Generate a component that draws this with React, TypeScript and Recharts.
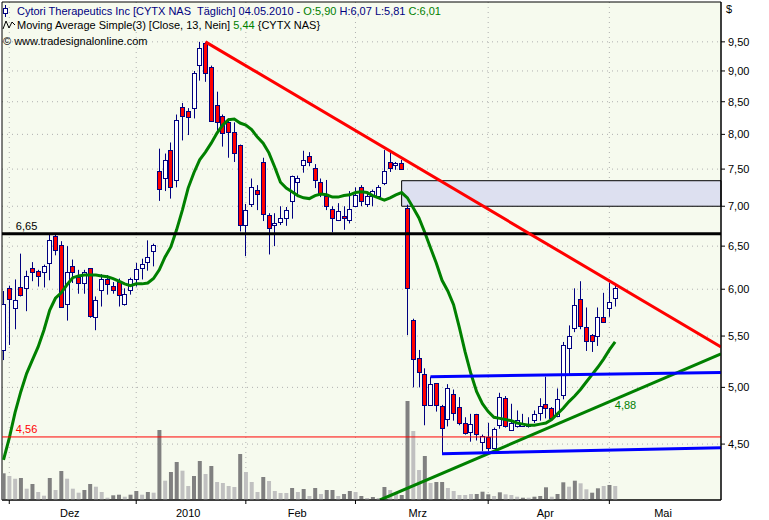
import React from 'react';
import {
  ComposedChart,
  Bar,
  Line,
  XAxis,
  YAxis,
  CartesianGrid,
  ReferenceLine,
  ReferenceArea,
  ReferenceDot,
  Cell,
} from 'recharts';

// daily candles, 30.11.2009 .. 04.05.2010 (index = trading day)
const opens = [
  5.36, 6.01, 5.79, 6.03, 6.02, 6.24, 6.21, 6.19, 6.31, 6.62,
  6.51, 5.84, 6.27, 6.14, 6.07, 6.24, 5.70, 6.00, 6.12, 6.04,
  6.08, 5.84, 5.99, 6.12, 6.24, 6.31, 6.44, 7.48, 7.38, 7.77,
  7.35, 8.41, 8.35, 8.41, 9.09, 9.48, 9.07, 8.45, 8.27, 8.18,
  8.03, 7.85, 6.76, 7.03, 7.22, 7.60, 6.89, 6.76, 6.80, 6.85,
  7.06, 7.32, 7.56, 7.68, 7.52, 7.32, 7.13, 6.97, 6.82, 6.87,
  6.82, 7.00, 7.25, 7.02, 7.13, 7.14, 7.31, 7.60, 7.56, 7.58,
  6.98, 5.67, 5.28, 5.13, 4.84, 5.04, 4.83, 4.71, 4.94, 4.82,
  4.68, 4.60, 4.76, 4.52, 4.56, 4.47, 4.66, 4.90, 4.62, 4.66,
  4.65, 4.65, 4.71, 4.77, 4.85, 4.81, 4.74, 4.93, 5.38, 5.59,
  5.89, 5.59, 5.51, 5.50, 5.70, 5.79, 5.90,
];
const highs = [
  5.98, 6.04, 6.11, 6.41, 6.21, 6.31, 6.22, 6.28, 6.65, 6.65,
  6.56, 6.50, 6.34, 6.22, 6.22, 6.24, 5.92, 6.17, 6.16, 6.08,
  6.12, 6.01, 6.13, 6.30, 6.35, 6.57, 6.53, 7.79, 7.72, 7.88,
  8.30, 8.48, 8.40, 9.00, 9.50, 9.50, 9.09, 8.66, 8.30, 8.24,
  8.18, 7.85, 7.03, 7.37, 7.28, 7.66, 6.91, 6.91, 7.00, 6.99,
  7.41, 7.41, 7.76, 7.74, 7.57, 7.37, 7.35, 7.00, 7.04, 7.00,
  7.20, 7.25, 7.28, 7.18, 7.22, 7.28, 7.77, 7.74, 7.60, 7.63,
  7.02, 5.68, 5.36, 5.18, 5.10, 5.04, 4.84, 5.03, 4.98, 4.91,
  4.73, 4.76, 4.76, 4.58, 4.68, 4.64, 4.95, 4.92, 4.85, 4.79,
  4.76, 4.73, 4.79, 4.90, 5.10, 4.82, 4.99, 5.44, 5.61, 6.01,
  6.09, 5.80, 5.52, 5.80, 5.96, 6.07, 6.07,
];
const lows = [
  5.26, 5.41, 5.57, 5.92, 5.76, 6.09, 6.03, 6.02, 6.10, 6.39,
  5.80, 5.66, 6.07, 5.95, 5.95, 5.69, 5.56, 5.81, 5.94, 5.95,
  5.81, 5.82, 5.94, 6.03, 6.11, 6.21, 6.26, 7.07, 7.20, 7.10,
  7.25, 7.91, 7.99, 8.24, 8.84, 8.82, 8.19, 8.02, 7.82, 7.66,
  7.60, 6.68, 6.38, 6.99, 6.95, 6.81, 6.40, 6.50, 6.76, 6.75,
  6.84, 7.12, 7.45, 7.54, 7.24, 7.12, 6.95, 6.67, 6.81, 6.70,
  6.78, 6.99, 7.00, 6.99, 7.00, 7.13, 7.28, 7.46, 7.49, 7.49,
  5.51, 5.00, 5.00, 4.66, 4.84, 4.78, 4.42, 4.65, 4.70, 4.66,
  4.58, 4.52, 4.53, 4.44, 4.44, 4.46, 4.63, 4.64, 4.62, 4.64,
  4.65, 4.64, 4.68, 4.70, 4.72, 4.70, 4.73, 4.89, 5.11, 5.54,
  5.57, 5.35, 5.34, 5.40, 5.65, 5.70, 5.81,
];
const closes = [
  5.84, 5.89, 5.88, 5.94, 6.15, 6.19, 6.15, 6.26, 6.58, 6.45,
  5.80, 6.20, 6.20, 6.07, 6.20, 5.71, 5.88, 6.12, 6.06, 6.00,
  5.94, 5.95, 6.11, 6.23, 6.29, 6.37, 6.51, 7.23, 7.63, 7.25,
  8.21, 8.27, 8.25, 8.97, 9.39, 8.97, 8.21, 8.18, 8.02, 8.03,
  7.72, 6.76, 6.95, 7.25, 7.17, 6.90, 6.72, 6.79, 6.85, 6.95,
  7.40, 7.38, 7.63, 7.60, 7.36, 7.17, 7.00, 6.86, 6.94, 6.85,
  6.96, 7.15, 7.06, 7.13, 7.20, 7.26, 7.48, 7.51, 7.59, 7.50,
  6.02, 5.27, 5.14, 4.84, 5.03, 4.84, 4.64, 4.99, 4.77, 4.68,
  4.59, 4.67, 4.59, 4.57, 4.47, 4.63, 4.91, 4.65, 4.68, 4.71,
  4.68, 4.67, 4.76, 4.83, 4.81, 4.72, 4.89, 5.41, 5.50, 5.83,
  5.60, 5.45, 5.45, 5.70, 5.65, 5.86, 6.01,
];
const volumes = [
  267, 240, 213, 220, 113, 160, 80, 43, 220, 100,
  290, 213, 113, 73, 100, 160, 133, 80, 23, 47,
  53, 33, 53, 90, 53, 80, 73, 700, 193, 280,
  380, 293, 140, 240, 390, 260, 340, 180, 170, 140,
  130, 460, 280, 180, 80, 230, 190, 90, 70, 70,
  120, 80, 110, 40, 120, 60, 100, 100, 40, 60,
  90, 80, 40, 20, 30, 20, 130, 100, 60, 50,
  990, 690, 300, 440, 170, 180, 180, 120, 90, 50,
  50, 60, 60, 83, 57, 40, 77, 57, 50, 33,
  23, 23, 33, 40, 127, 33, 60, 177, 133, 193,
  167, 107, 73, 117, 140, 150, 140,
];
// 1 = dark grey volume bar, 0 = light grey
const volumeDark = [
  1, 0, 0, 1, 0, 1, 0, 0, 1, 0,
  1, 0, 0, 0, 1, 1, 0, 0, 0, 1,
  1, 0, 1, 1, 0, 1, 0, 1, 0, 1,
  1, 0, 0, 1, 1, 0, 1, 0, 0, 0,
  0, 1, 0, 0, 0, 1, 0, 0, 0, 0,
  1, 0, 1, 0, 1, 0, 1, 1, 0, 1,
  1, 0, 1, 0, 1, 0, 1, 0, 0, 1,
  1, 0, 0, 1, 0, 1, 1, 0, 0, 0,
  0, 0, 1, 1, 1, 0, 1, 0, 0, 0,
  1, 0, 1, 1, 1, 0, 1, 1, 0, 1,
  0, 0, 1, 1, 0, 1, 0,
];
// Moving Average Simple (13), as drawn
const movingAverage = [
  4.37, 4.55, 4.77, 4.96, 5.13, 5.26, 5.39, 5.56, 5.77, 5.90,
  5.96, 6.05, 6.13, 6.15, 6.16, 6.16, 6.16, 6.15, 6.14, 6.12,
  6.09, 6.06, 6.04, 6.06, 6.06, 6.07, 6.12, 6.22, 6.37, 6.49,
  6.70, 6.95, 7.24, 7.45, 7.63, 7.74, 7.87, 8.02, 8.14, 8.22,
  8.23, 8.17, 8.14, 8.07, 7.96, 7.87, 7.73, 7.53, 7.32, 7.24,
  7.19, 7.14, 7.11, 7.10, 7.14, 7.16, 7.15, 7.12, 7.12, 7.14,
  7.15, 7.18, 7.19, 7.18, 7.14, 7.11, 7.08, 7.11, 7.15, 7.18,
  7.11, 6.98, 6.85, 6.67, 6.48, 6.30, 6.10, 5.98, 5.83, 5.59,
  5.34, 5.13, 4.96, 4.85, 4.78, 4.73, 4.72, 4.71, 4.70, 4.68,
  4.67, 4.66, 4.66, 4.67, 4.68, 4.71, 4.76, 4.81, 4.87, 4.92,
  4.98, 5.05, 5.12, 5.19, 5.27, 5.36, 5.44,
];

const priceTicks = [4.5, 5, 5.5, 6, 6.5, 7, 7.5, 8, 8.5, 9, 9.5];
const monthStarts = [1, 23, 42, 61, 84, 105];
const monthMids = [11.5, 32, 50.9, 71.8, 93.9, 114.3];
const monthLabels = ['Dez', '2010', 'Feb', 'Mrz', 'Apr', 'Mai'];

// drawing tools
const resistance = 6.65;
const support = 4.56;
const zoneStart = 69;
const zoneLow = 7.0;
const zoneHigh = 7.34;
const redTrend = [{ x: 35, y: 9.5 }, { x: 124.35, y: 5.39 }];
const greenTrend = [{ x: 65.25, y: 4.056 }, { x: 124.35, y: 5.32 }];
const blueUpper = [{ x: 74, y: 5.1 }, { x: 124.35, y: 5.14 }];
const blueLower = [{ x: 76, y: 4.42 }, { x: 124.35, y: 4.47 }];

const data = opens.map((open, i) => ({
  i,
  open,
  high: highs[i],
  low: lows[i],
  close: closes[i],
  volume: volumes[i],
  dark: volumeDark[i] === 1,
  ma: movingAverage[i],
}));

const FONT = '"Liberation Sans", Arial, sans-serif';
const X_DOMAIN: [number, number] = [-0.26, 124.35];
const Y_DOMAIN: [number, number] = [4.056, 10.23];
const NAVY = '#000080';
const GREEN = '#008000';

const fmt = (v: number) => v.toFixed(2).replace('.', ',');

// candle drawn inside the [low, high] bar the library positions for us
const Candle = (props: any) => {
  const { x, y, width, height, payload } = props;
  if (x == null || !payload) return null;
  const { open, close, high, low } = payload;
  const cx = Math.round(x + width / 2) + 0.5;
  const span = Math.log(high) - Math.log(low);
  const toY = (v: number) =>
    span > 0 ? y + height - ((Math.log(v) - Math.log(low)) / span) * height : y;
  const yo = toY(open);
  const yc = toY(close);
  const up = close >= open;
  const top = Math.round(Math.min(yo, yc)) + 0.5;
  const h = Math.max(Math.round(Math.abs(yo - yc)), 1);
  return (
    <g>
      <line x1={cx} x2={cx} y1={y} y2={y + height} stroke={NAVY} strokeWidth={1} />
      <rect x={cx - 2} y={top} width={4} height={h} fill={up ? '#ffffff' : '#ff0000'} stroke={NAVY} strokeWidth={1} />
    </g>
  );
};

const MonthTick = (props: any) => {
  const { x, y, payload } = props;
  const v = payload.value;
  if (monthStarts.includes(v)) {
    return <line x1={x} x2={x} y1={y} y2={y + 4} stroke="#000" />;
  }
  const m = monthMids.indexOf(v);
  return (
    <text x={x} y={y + 17} textAnchor="middle" fontSize={11} fill="#000" fontFamily={FONT}>
      {monthLabels[m]}
    </text>
  );
};

export default function App() {
  return (
    <div style={{ position: 'absolute', left: 0, top: 0, width: 769, height: 520, background: '#fff', fontFamily: FONT }}>
      <ComposedChart
        width={769}
        height={520}
        data={data}
        margin={{ top: 2, right: 0, bottom: 0, left: 2 }}
        style={{ fontFamily: FONT }}
      >
        <CartesianGrid
          yAxisId="price"
          fill="#f6faee"
          stroke="#b0b0b0"
          strokeDasharray="1 4"
          horizontalValues={priceTicks}
          verticalValues={monthStarts}
        />
        <XAxis
          dataKey="i"
          type="number"
          domain={X_DOMAIN}
          allowDataOverflow
          ticks={[...monthStarts, ...monthMids]}
          interval={0}
          tickLine={false}
          tickSize={0}
          tickMargin={0}
          height={20}
          axisLine={{ stroke: '#000' }}
          tick={<MonthTick />}
        />
        <XAxis xAxisId="vol" dataKey="i" type="number" domain={X_DOMAIN} allowDataOverflow hide />
        <YAxis
          yAxisId="price"
          orientation="right"
          scale="log"
          domain={Y_DOMAIN}
          allowDataOverflow
          ticks={priceTicks}
          interval={0}
          width={48}
          tickSize={4}
          tickMargin={3}
          axisLine={{ stroke: '#000' }}
          tickLine={{ stroke: '#000' }}
          tick={{ fontSize: 11, fill: '#000' }}
          tickFormatter={fmt}
        />
        <YAxis yAxisId="volume" domain={[0, 4980]} hide />

        <ReferenceArea
          yAxisId="price"
          x1={zoneStart}
          x2={X_DOMAIN[1]}
          y1={zoneLow}
          y2={zoneHigh}
          fill="#dde0f0"
          fillOpacity={1}
          stroke="#000"
          strokeWidth={1}
        />

        <Bar xAxisId="vol" yAxisId="volume" dataKey="volume" barSize={4} isAnimationActive={false}>
          {data.map((d) => (
            <Cell key={d.i} fill={d.dark ? '#808080' : '#c0c0c0'} />
          ))}
        </Bar>

        <Bar
          yAxisId="price"
          dataKey={(d: any) => [d.low, d.high]}
          barSize={5}
          shape={(p: any) => <Candle {...p} />}
          isAnimationActive={false}
        />

        <Line
          yAxisId="price"
          dataKey="ma"
          type="linear"
          stroke={GREEN}
          strokeWidth={3}
          dot={false}
          activeDot={false}
          isAnimationActive={false}
        />

        <ReferenceLine yAxisId="price" y={resistance} stroke="#000" strokeWidth={3} />
        <ReferenceLine yAxisId="price" y={support} stroke="#ff0000" strokeWidth={1} />
        <ReferenceLine yAxisId="price" segment={redTrend} stroke="#ff0000" strokeWidth={3} ifOverflow="hidden" />
        <ReferenceLine yAxisId="price" segment={greenTrend} stroke={GREEN} strokeWidth={3} ifOverflow="hidden" />
        <ReferenceLine yAxisId="price" segment={blueUpper} stroke="#0000ff" strokeWidth={3} ifOverflow="hidden" />
        <ReferenceLine yAxisId="price" segment={blueLower} stroke="#0000ff" strokeWidth={3} ifOverflow="hidden" />

        <ReferenceDot yAxisId="price" x={4} y={6.75} r={0} fill="none" stroke="none"
          label={{ value: fmt(resistance), position: 'center', fill: '#000', fontSize: 11 }} />
        <ReferenceDot yAxisId="price" x={4} y={4.63} r={0} fill="none" stroke="none"
          label={{ value: fmt(support), position: 'center', fill: '#ff0000', fontSize: 11 }} />
        <ReferenceDot yAxisId="price" x={107.8} y={4.84} r={0} fill="none" stroke="none"
          label={{ value: '4,88', position: 'center', fill: GREEN, fontSize: 11 }} />

        <ReferenceArea
          yAxisId="price"
          x1={X_DOMAIN[0]}
          x2={X_DOMAIN[1]}
          y1={Y_DOMAIN[0]}
          y2={Y_DOMAIN[1]}
          fill="none"
          stroke="#000"
          strokeWidth={1}
        />
      </ComposedChart>

      {/* legend lines in the top-left corner of the plot */}
      <div style={{ position: 'absolute', left: 0, top: 0, fontSize: 11, lineHeight: '14px', whiteSpace: 'pre' }}>
        <svg width={16} height={48} style={{ position: 'absolute', left: 0, top: 0 }}>
          <line x1={5.5} x2={5.5} y1={5} y2={17} stroke={NAVY} />
          <rect x={3.5} y={8.5} width={4} height={5} fill="#fff" stroke={NAVY} />
          <polyline points="3,29 6,21 9,28 12,22 15,25" fill="none" stroke="#000" />
        </svg>
        <div style={{ position: 'absolute', left: 17, top: 4, color: NAVY }}>
          {'Cytori Therapeutics Inc [CYTX NAS  Täglich] 04.05.2010 - '}
          <span style={{ color: GREEN }}>O:5,90</span>
          {' H:6,07 L:5,81 '}
          <span style={{ color: GREEN }}>C:6,01</span>
        </div>
        <div style={{ position: 'absolute', left: 17, top: 18, color: '#000' }}>
          {'Moving Average Simple(3) [Close, 13, Nein] '}
          <span style={{ color: GREEN }}>5,44</span>
          {' {CYTX NAS}'}
        </div>
        <div style={{ position: 'absolute', left: 3, top: 34, color: '#000' }}>
          {'© www.tradesignalonline.com'}
        </div>
      </div>
      <div style={{ position: 'absolute', left: 726, top: 3, fontSize: 11, color: '#000' }}>$</div>
    </div>
  );
}
